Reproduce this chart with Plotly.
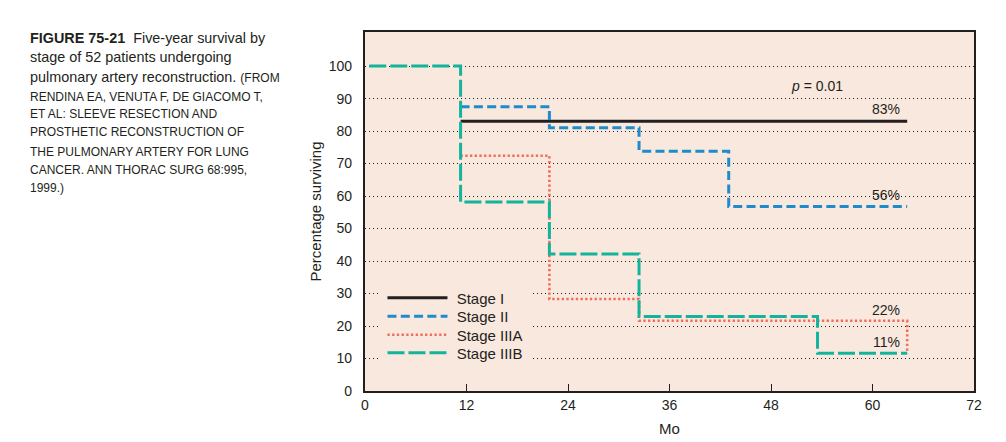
import plotly.graph_objects as go

# ---------------- data ----------------
stage_names = ["Stage I", "Stage II", "Stage IIIA", "Stage IIIB"]
stage1_t = [11.3, 64.1]
stage1_s = [83, 83]
stage2_t = [11.3, 21.8, 32.4, 43.0, 64.1]
stage2_s = [87.5, 81, 73.8, 56.8, 56.8]
stage3a_t = [11.3, 21.8, 32.4, 64.1]
stage3a_s = [72.4, 28.3, 21.6, 11.6]
stage3b_t = [0.5, 11.3, 21.8, 32.4, 53.5, 64.1]
stage3b_s = [100, 58.2, 42.2, 22.9, 11.6, 11.6]

x_ticks = [0, 12, 24, 36, 48, 60, 72]
y_ticks = [0, 10, 20, 30, 40, 50, 60, 70, 80, 90, 100]

end_labels = ["83%", "56%", "22%", "11%"]
end_label_y = [86.8, 60.4, 24.8, 15.0]
end_label_x = 61.6

caption_lines = [
    ("<b>FIGURE 75-21</b>  Five-year survival by", 14.4),
    ("stage of 52 patients undergoing", 14.4),
    ("pulmonary artery reconstruction. <span style='font-size:12px'>(FROM</span>", 14.4),
    ("RENDINA EA, VENUTA F, DE GIACOMO T,", 12),
    ("ET AL: SLEEVE RESECTION AND", 12),
    ("PROSTHETIC RECONSTRUCTION OF", 12),
    ("THE PULMONARY ARTERY FOR LUNG", 12),
    ("CANCER. ANN THORAC SURG 68:995,", 12),
    ("1999.)", 12),
]
caption_py = [38, 57, 77, 97, 114, 132, 152, 170, 188]

# ---------------- style ----------------
FONT = "Liberation Sans, Arial, Helvetica, sans-serif"
INK = "#231F20"
BG = "#F9E8DE"
colors = ["#231F20", "#1E8BCD", "#F26B5B", "#13B49C"]
dashes = ["solid", "9px,4.3px", "2.3px,2.4px", "17px,4px"]
widths = [3, 3, 2.6, 3]
legend_py = [298, 316.5, 335, 353]

L, R, T, B = 364.5, 31.5, 32, 51
W, H = 1006, 442
pw, ph = W - L - R, H - T - B

def px_x(px):
    return (px - L) / pw

def px_y(py):
    return (H - B - py) / ph

fig = go.Figure()
series = [(stage1_t, stage1_s), (stage2_t, stage2_s), (stage3a_t, stage3a_s), (stage3b_t, stage3b_s)]
legend_ids = ["legend", "legend2", "legend3", "legend4"]
for name, (t, s), c, d, w, lg in zip(stage_names, series, colors, dashes, widths, legend_ids):
    fig.add_trace(go.Scatter(
        x=t, y=s, name="\u00a0" + name, mode="lines",
        line=dict(color=c, dash=d, width=w, shape="hv"),
        hoverinfo="skip", legend=lg,
    ))

annotations = []
for txt, yy in zip(end_labels, end_label_y):
    annotations.append(dict(x=end_label_x, y=yy, xref="x", yref="y", text=txt,
                            showarrow=False, font=dict(size=14, color=INK, family=FONT)))
annotations.append(dict(x=53.4, y=93.9, xref="x", yref="y", text="<i>p</i> = 0.01",
                        showarrow=False, font=dict(size=14, color=INK, family=FONT)))
for (txt, fs), py in zip(caption_lines, caption_py):
    annotations.append(dict(x=px_x(27), y=px_y(py), xref="paper", yref="paper",
                            xanchor="left", yanchor="middle", text=txt, showarrow=False,
                            font=dict(size=fs, color=INK, family=FONT)))

legend_common = dict(
    xanchor="left", yanchor="middle",
    bgcolor="rgba(0,0,0,0)", borderwidth=0, itemwidth=60,
    font=dict(size=15, color=INK, family=FONT),
)
layout_legends = {}
for lg, py in zip(legend_ids, legend_py):
    layout_legends[lg] = dict(x=px_x(382), y=px_y(py), **legend_common)

# background patch behind the legend that hides the grid (as in the original)
legend_patch = dict(type="rect", xref="x", yref="y",
                    x0=(378 - L) / pw * 72, x1=(531 - L) / pw * 72,
                    y0=(H - B - 370) / ph * 110.5, y1=(H - B - 285) / ph * 110.5,
                    fillcolor=BG, line=dict(width=0), layer="between")

fig.update_layout(
    width=W, height=H,
    margin=dict(l=L, r=R, t=T, b=B, pad=0),
    paper_bgcolor="white",
    plot_bgcolor=BG,
    font=dict(family=FONT, size=14, color=INK),
    showlegend=True,
    annotations=annotations,
    shapes=[legend_patch],
    **layout_legends,
)

fig.update_xaxes(
    range=[0, 72], tickvals=x_ticks, ticktext=[str(v) for v in x_ticks],
    ticks="inside", ticklen=7, tickwidth=1.2, tickcolor=INK,
    showline=True, linewidth=2.2, linecolor=INK, mirror=True,
    showgrid=False, zeroline=False, automargin=False,
    tickfont=dict(size=14, color=INK),
    title=dict(text="Mo", font=dict(size=15, color=INK), standoff=12),
    fixedrange=True,
)
fig.update_yaxes(
    range=[0, 110.5], tickvals=y_ticks, ticktext=[str(v) for v in y_ticks],
    ticks="", showline=True, linewidth=2.2, linecolor=INK, mirror=True,
    showgrid=True, gridcolor=INK, gridwidth=1.1, griddash="1.3px,2.7px",
    zeroline=False, ticklabelstandoff=8, automargin=False,
    tickfont=dict(size=14, color=INK),
    title=dict(text="Percentage surviving", font=dict(size=15, color=INK), standoff=3),
    fixedrange=True,
)

fig.write_html("out.html")
